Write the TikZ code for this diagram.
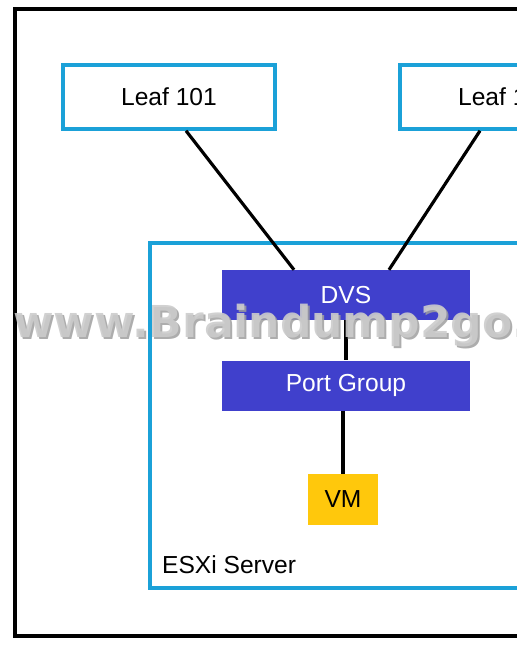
\documentclass[tikz,border=0pt]{standalone}
\usepackage{fontspec}
\setmainfont{Liberation Sans}
\newfontfamily\markfont{DejaVu Sans}
\usetikzlibrary{positioning}

\definecolor{leafcyan}{RGB}{27,161,216}
\definecolor{dvsblue}{RGB}{64,64,204}
\definecolor{vmyellow}{RGB}{255,200,12}
\definecolor{markgray}{RGB}{204,204,204}

\tikzset{
  leaf/.style={draw=leafcyan, line width=3pt, fill=white, minimum width=6.36cm, minimum height=1.92cm, font=\fontsize{21}{25}\selectfont},
  switchbox/.style={fill=dvsblue, text=white, minimum width=7.44cm, minimum height=1.5cm, font=\fontsize{21}{25}\selectfont},
  vmbox/.style={fill=vmyellow, minimum width=2.1cm, minimum height=1.53cm, font=\fontsize{21}{25}\selectfont},
  link/.style={line width=2.7pt, black},
}

\begin{document}
\begin{tikzpicture}[x=0.03cm, y=-0.03cm]
  \useasboundingbox (0,0) rectangle (517,651);
  \clip (0,0) rectangle (517,651);
  \fill[white] (0,0) rectangle (517,651);
  \draw[line width=3pt] (15,9) rectangle (700,636);
  \draw[leafcyan, line width=3pt] (150,243) rectangle (700,588);

  \node[leaf] (leaf101) at (169,97) {Leaf 101};
  \node[leaf] (leaf102) at (506,97) {Leaf 102};
  \node[switchbox] (dvs) at (346,295) {DVS};
  \node[switchbox] (portgroup) at (346,385.5) {Port Group};
  \node[vmbox] (vm) at (343,499.5) {VM};
  \node[anchor=west, font=\fontsize{21}{25}\selectfont] (esxi) at (158,565) {ESXi Server};

  \draw[link] ([xshift=0.51cm]leaf101.south) -- ([xshift=-1.56cm]dvs.north);
  \draw[link] ([xshift=-0.78cm]leaf102.south) -- ([xshift=1.29cm]dvs.north);
  \draw[link] (dvs) -- (portgroup);
  \draw[link] (portgroup.south -| vm.north) -- (vm);

  \node[anchor=base west, inner sep=0pt, text=gray!75, opacity=0.85, font=\markfont\bfseries\fontsize{37.5}{40}\selectfont] (shadow) at (15,339) {www.Braindump2go.com};
  \node[anchor=base west, inner sep=0pt, text=markgray, opacity=0.9, font=\markfont\bfseries\fontsize{37.5}{40}\selectfont] (mark) at (13,337) {www.Braindump2go.com};
\end{tikzpicture}
\end{document}
